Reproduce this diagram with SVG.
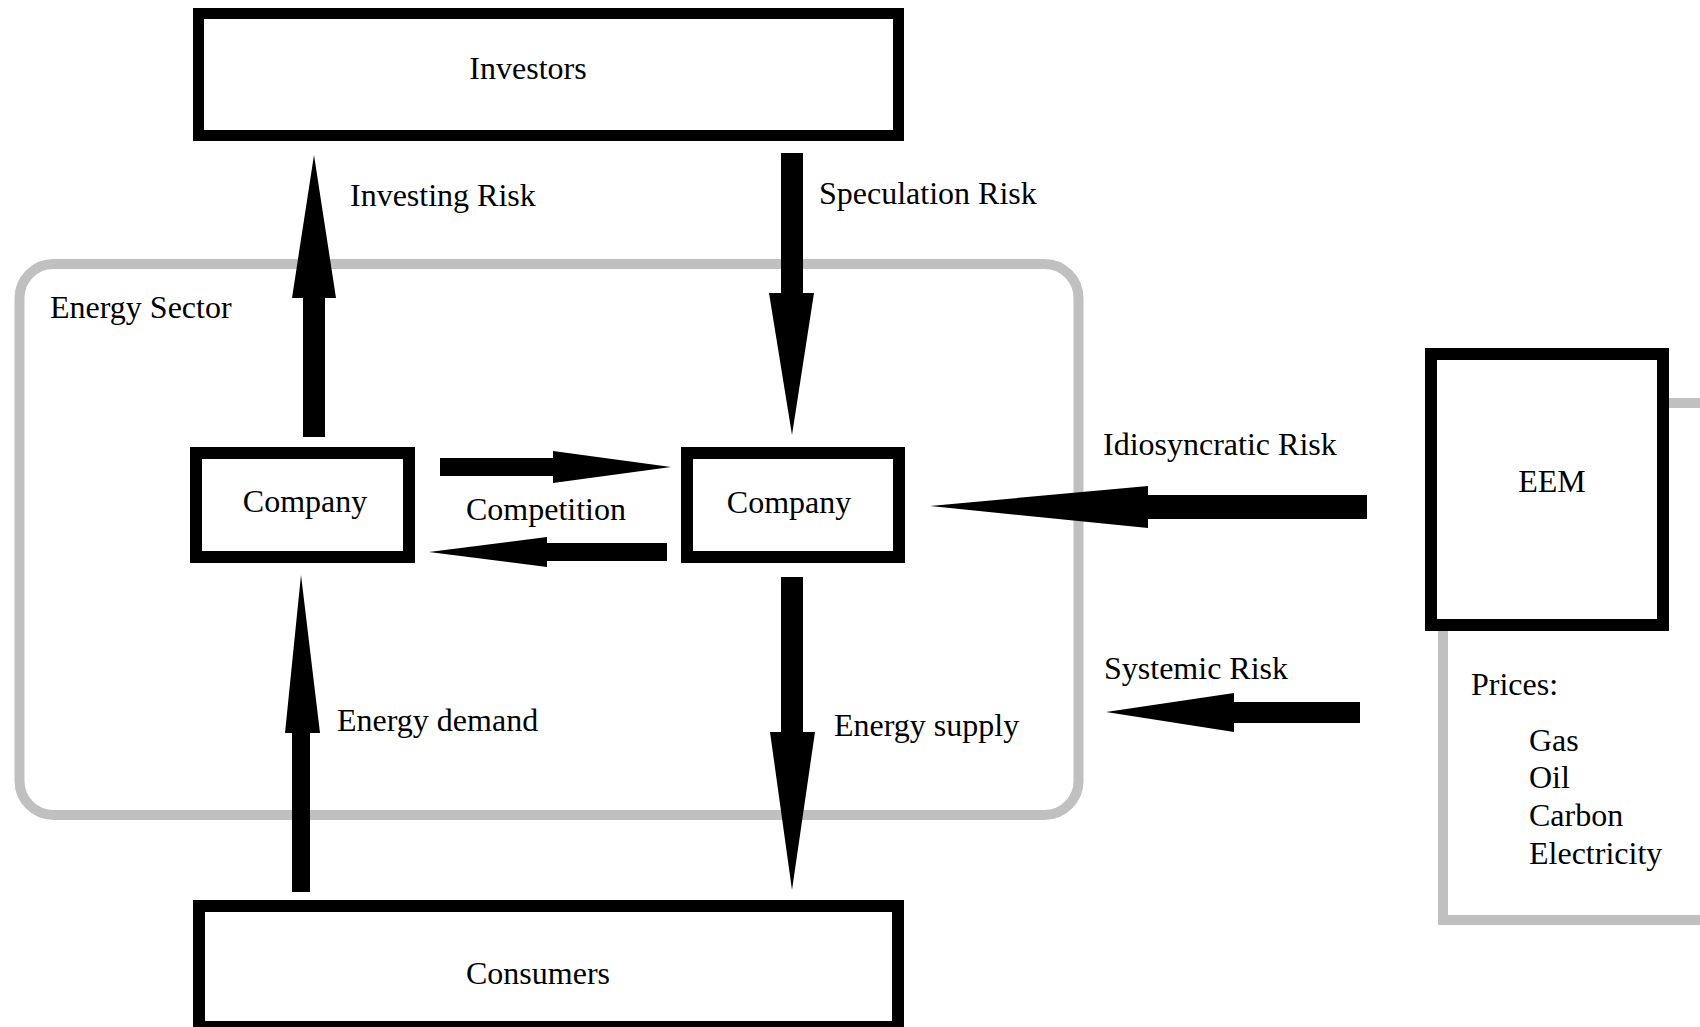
<svg xmlns="http://www.w3.org/2000/svg" width="1700" height="1027" viewBox="0 0 1700 1027">
<style>
  text { font-family: "Liberation Serif", "Times New Roman", serif; font-size: 32px; fill: #000; }
  .mid { text-anchor: middle; }
  .box { fill: #fff; stroke: #000; stroke-width: 12; }
  .region { fill: none; stroke: #c0c0c0; stroke-width: 10; }
  .arrow { fill: #000; stroke: none; }
</style>
<rect width="1700" height="1027" fill="#fff"/>

<g id="energy-sector">
  <rect class="region" x="19.5" y="264" width="1059" height="551" rx="34" ry="34"/>
  <text x="50" y="318">Energy Sector</text>
</g>

<g id="prices">
  <rect class="region" x="1443" y="403" width="320" height="517" style="fill:#fff"/>
  <text x="1471" y="695">Prices:</text>
  <text x="1529" y="751">Gas</text>
  <text x="1529" y="788">Oil</text>
  <text x="1529" y="826">Carbon</text>
  <text x="1529" y="864">Electricity</text>
</g>

<g id="investors">
  <rect class="box" x="198.5" y="13.5" width="700" height="122" style="stroke-width:11"/>
  <text class="mid" x="528" y="79">Investors</text>
</g>

<g id="company-left">
  <rect class="box" x="196" y="453" width="213" height="104"/>
  <text class="mid" x="305" y="512">Company</text>
</g>

<g id="company-right">
  <rect class="box" x="687" y="453" width="212" height="104"/>
  <text class="mid" x="789" y="513">Company</text>
</g>

<g id="eem">
  <rect class="box" x="1431" y="354" width="232" height="271"/>
  <text class="mid" x="1552" y="492">EEM</text>
</g>

<g id="consumers">
  <rect class="box" x="199" y="906" width="699" height="121"/>
  <text class="mid" x="538" y="984">Consumers</text>
</g>

<g id="connectors">
  <polygon class="arrow" points="303,437 325,437 325,298 336,298 314,155 292,298 303,298"/>
  <polygon class="arrow" points="781,153 803,153 803,293 814,293 792,435 769,293 781,293"/>
  <polygon class="arrow" points="440,458 553,458 553,451 671,467 553,483 553,476 440,476"/>
  <polygon class="arrow" points="667,543 547,543 547,537 429,552 547,567 547,561 667,561"/>
  <polygon class="arrow" points="1367,495 1148,495 1148,486 930,506 1148,528 1148,519 1367,519"/>
  <polygon class="arrow" points="1360,702 1234,702 1234,693 1106,712 1234,732 1234,723 1360,723"/>
  <polygon class="arrow" points="292,892 310,892 310,733 320,733 301,575 285,733 292,733"/>
  <polygon class="arrow" points="781,577 803,577 803,732 815,732 792,890 770,732 781,732"/>
  <text x="350" y="206">Investing Risk</text>
  <text x="819" y="204">Speculation Risk</text>
  <text class="mid" x="546" y="520">Competition</text>
  <text x="1103" y="455">Idiosyncratic Risk</text>
  <text x="1104" y="679">Systemic Risk</text>
  <text x="337" y="731">Energy demand</text>
  <text x="834" y="736">Energy supply</text>
</g>
</svg>
